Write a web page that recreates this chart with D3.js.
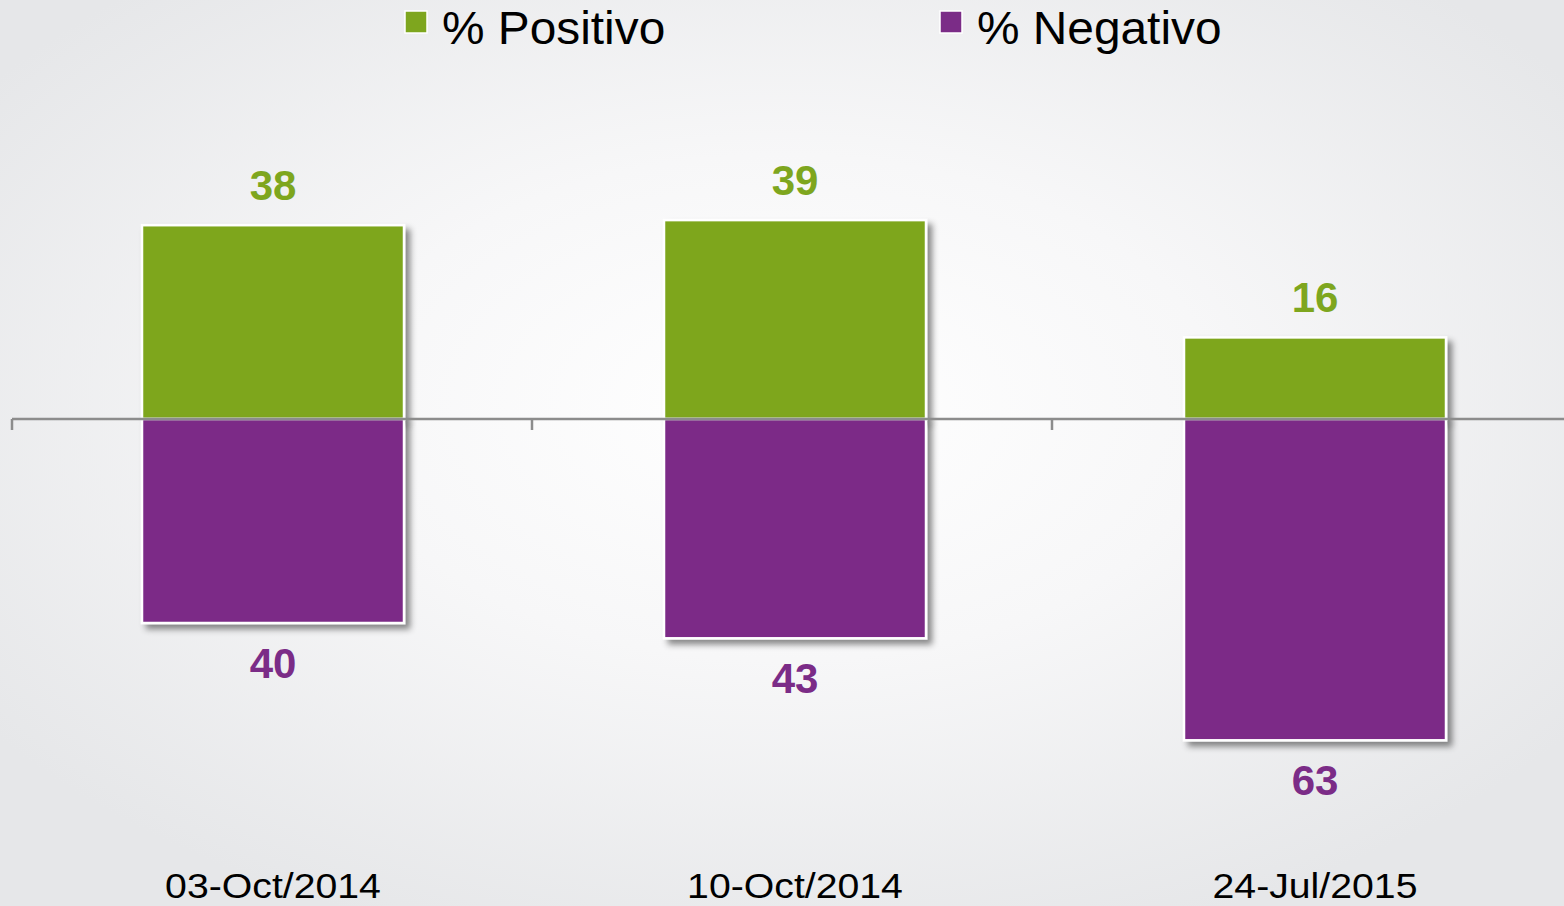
<!DOCTYPE html>
<html>
<head>
<meta charset="utf-8">
<script src="https://cdn.jsdelivr.net/npm/d3@7"></script>
<style>
  html, body { margin: 0; padding: 0; overflow: hidden; }
  body { width: 1564px; height: 906px; }
  svg text { font-family: "Liberation Sans", Arial, sans-serif; }
</style>
</head>
<body>
<div id="chart"></div>
<script>
'use strict'

var width = 1564;
var height = 906;

// data
var categories = ["03-Oct/2014", "10-Oct/2014", "24-Jul/2015"];
var positivo = [38, 39, 16];
var negativo = [40, 43, 63];
var seriesNames = ["% Positivo", "% Negativo"];
var seriesColors = ["#7ea61e", "#7b2c87"];

var svg = d3.select("#chart").append("svg")
    .attr("width", width).attr("height", height);

// background, light radial glow
var defs = svg.append("defs");
var grad = defs.append("radialGradient").attr("id", "bg")
    .attr("cx", "50%").attr("cy", "45%").attr("r", "62%");
grad.append("stop").attr("offset", "0%").attr("stop-color", "#ffffff");
grad.append("stop").attr("offset", "45%").attr("stop-color", "#f7f7f8");
grad.append("stop").attr("offset", "100%").attr("stop-color", "#e6e7e9");
svg.append("rect").attr("width", width).attr("height", height).attr("fill", "url(#bg)");

var shadow = defs.append("filter").attr("id", "shadow")
    .attr("x", "-10%").attr("y", "-10%").attr("width", "130%").attr("height", "130%");
shadow.append("feDropShadow").attr("dx", 5).attr("dy", 5).attr("stdDeviation", 3)
    .attr("flood-color", "#000").attr("flood-opacity", 0.45);

var x = d3.scaleBand().domain(categories).range([13, 1573]).paddingInner(0).paddingOuter(0);
var y = d3.scaleLinear().domain([-100, 100]).range([419 + 510, 419 - 510]);

var barW = 262;
var cx = function(c, i) { return x(c) + x.bandwidth() / 2 + (i > 0 ? 2 : 0); };
var bx = function(c, i) { return cx(c, i) - barW / 2; };

var rows = categories.map(function(c, i) {
    return { cat: c, i: i, pos: positivo[i], neg: negativo[i] };
});

// bars
var g = svg.append("g");
g.selectAll(".pos").data(rows).enter().append("rect")
    .attr("class", "pos")
    .attr("x", function(d) { return bx(d.cat, d.i); })
    .attr("y", function(d) { return y(d.pos); })
    .attr("width", barW)
    .attr("height", function(d) { return y(0) - y(d.pos); })
    .attr("fill", seriesColors[0])
    .attr("stroke", "#fff").attr("stroke-width", 2.5)
    .attr("filter", "url(#shadow)");

g.selectAll(".neg").data(rows).enter().append("rect")
    .attr("class", "neg")
    .attr("x", function(d) { return bx(d.cat, d.i); })
    .attr("y", y(0))
    .attr("width", barW)
    .attr("height", function(d) { return y(-d.neg) - y(0); })
    .attr("fill", seriesColors[1])
    .attr("stroke", "#fff").attr("stroke-width", 2.5)
    .attr("filter", "url(#shadow)");

// value labels
g.selectAll(".posLbl").data(rows).enter().append("text")
    .attr("x", function(d) { return cx(d.cat, d.i); })
    .attr("y", function(d) { return y(d.pos) - 25; })
    .attr("text-anchor", "middle")
    .attr("font-size", 42).attr("font-weight", "bold")
    .attr("fill", seriesColors[0])
    .text(function(d) { return d.pos; });

g.selectAll(".negLbl").data(rows).enter().append("text")
    .attr("x", function(d) { return cx(d.cat, d.i); })
    .attr("y", function(d) { return y(-d.neg) + 55; })
    .attr("text-anchor", "middle")
    .attr("font-size", 42).attr("font-weight", "bold")
    .attr("fill", seriesColors[1])
    .text(function(d) { return d.neg; });

// zero axis with ticks at category boundaries
var axis = svg.append("g");
axis.append("line")
    .attr("x1", 12).attr("x2", width)
    .attr("y1", y(0)).attr("y2", y(0))
    .attr("stroke", "#8c8c8c").attr("stroke-width", 2.5);
axis.selectAll(".tick").data(categories).enter().append("line")
    .attr("x1", function(c) { return x(c) - 1; })
    .attr("x2", function(c) { return x(c) - 1; })
    .attr("y1", y(0)).attr("y2", y(0) + 11)
    .attr("stroke", "#8c8c8c").attr("stroke-width", 2.5);

// category labels (the original type is a bit wider than Arial)
svg.selectAll(".cat").data(categories).enter().append("g")
    .attr("transform", function(c, i) { return "translate(" + cx(c, i) + ",898) scale(1.09,1)"; })
    .append("text")
    .attr("text-anchor", "middle")
    .attr("font-size", 36)
    .attr("fill", "#000")
    .text(function(c) { return c; });

// legend
var legX = [405, 940];
var leg = svg.selectAll(".leg").data(seriesNames).enter().append("g")
    .attr("transform", function(d, i) { return "translate(" + legX[i] + ",0)"; });
leg.append("rect")
    .attr("x", 0).attr("y", 11).attr("width", 22).attr("height", 22)
    .attr("fill", function(d, i) { return seriesColors[i]; })
    .attr("stroke", "#fff").attr("stroke-width", 1.5);
leg.append("text")
    .attr("transform", "translate(37,44) scale(1.04,1)")
    .attr("font-size", 46)
    .attr("fill", "#000")
    .text(function(d) { return d; });
</script>
</body>
</html>
